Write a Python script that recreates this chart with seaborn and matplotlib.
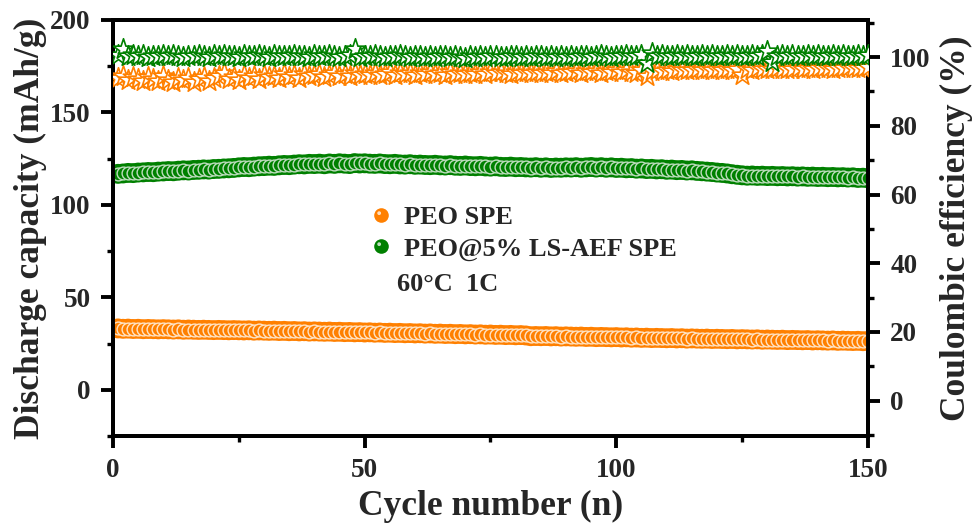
import matplotlib
matplotlib.use("Agg")
import matplotlib.pyplot as plt
from matplotlib.lines import Line2D
from matplotlib.legend_handler import HandlerTuple
from matplotlib.path import Path
from matplotlib.ticker import MultipleLocator
import numpy as np
import pandas as pd
import seaborn as sns

# ---- data -------------------------------------------------------------
cycles = list(range(1, 151))

peo_capacity = [
    33.2, 33.0, 33.1, 32.9, 33.0, 32.8, 32.9, 32.8, 32.7, 32.8,
    32.7, 32.6, 32.7, 32.5, 32.6, 32.5, 32.4, 32.5, 32.4, 32.3,
    32.4, 32.3, 32.2, 32.3, 32.2, 32.1, 32.2, 32.0, 32.1, 32.0,
    31.9, 32.0, 31.8, 31.9, 31.7, 31.8, 31.6, 31.7, 31.5, 31.6,
    31.5, 31.4, 31.5, 31.3, 31.4, 31.2, 31.3, 31.1, 31.2, 31.0,
    31.1, 30.9, 31.0, 30.8, 30.9, 30.7, 30.8, 30.6, 30.7, 30.5,
    30.6, 30.4, 30.5, 30.3, 30.4, 30.2, 30.3, 30.1, 30.2, 30.0,
    30.1, 29.9, 30.0, 29.8, 29.9, 29.7, 29.8, 29.6, 29.7, 29.5,
    29.6, 29.4, 29.0, 29.1, 29.0, 29.1, 28.9, 29.0, 28.8, 28.9,
    28.8, 28.7, 28.8, 28.6, 28.7, 28.5, 28.6, 28.5, 28.4, 28.5,
    28.3, 28.4, 28.2, 28.3, 28.1, 28.2, 28.0, 28.1, 28.0, 27.9,
    28.0, 27.8, 27.9, 27.7, 27.8, 27.7, 27.6, 27.7, 27.5, 27.6,
    27.5, 27.4, 27.5, 27.3, 27.4, 27.3, 27.2, 27.3, 27.1, 27.2,
    27.1, 27.0, 27.1, 26.9, 27.0, 26.9, 26.8, 26.9, 26.7, 26.8,
    26.7, 26.6, 26.7, 26.5, 26.6, 26.5, 26.4, 26.5, 26.3, 26.4,
]

aef_capacity = [
    116.8, 117.0, 117.3, 117.2, 117.5, 117.6, 117.8, 117.7, 118.0, 118.1,
    118.3, 118.2, 118.5, 118.7, 118.6, 118.9, 119.0, 119.2, 119.1, 119.4,
    119.5, 119.7, 119.8, 120.0, 120.3, 120.5, 120.4, 120.7, 120.9, 121.0,
    121.2, 121.1, 121.4, 121.6, 121.5, 121.8, 122.0, 121.9, 122.2, 122.1,
    122.3, 122.0, 122.4, 122.2, 122.5, 122.3, 122.1, 122.6, 122.4, 122.5,
    122.3, 122.2, 122.4, 122.1, 122.0, 122.2, 121.9, 121.8, 122.0, 121.7,
    121.8, 121.6, 121.5, 121.7, 121.4, 121.3, 121.5, 121.2, 121.1, 121.3,
    121.0, 120.9, 121.1, 120.8, 120.7, 120.9, 120.6, 120.5, 120.7, 120.4,
    120.5, 120.3, 120.2, 120.4, 120.1, 120.3, 120.0, 120.2, 120.1, 120.3,
    120.2, 120.4, 120.1, 120.3, 120.5, 120.2, 120.4, 120.1, 120.3, 120.0,
    120.1, 119.8, 119.9, 119.6, 119.7, 119.4, 119.5, 119.2, 119.3, 119.0,
    119.1, 118.8, 118.9, 118.6, 118.7, 118.4, 118.2, 118.0, 117.8, 117.5,
    117.3, 117.0, 116.6, 116.3, 116.0, 115.8, 115.9, 115.7, 115.8, 115.6,
    115.7, 115.5, 115.6, 115.4, 115.5, 115.3, 115.4, 115.2, 115.3, 115.1,
    115.2, 115.0, 115.1, 114.9, 115.0, 114.8, 114.9, 114.6, 114.7, 114.4,
]

peo_ce = [
    93.8, 94.6, 93.2, 94.1, 93.5, 92.9, 94.3, 93.6, 93.0, 94.4,
    93.3, 92.8, 94.0, 93.4, 93.9, 92.7, 93.7, 94.2, 93.1, 93.8,
    94.5, 95.3, 93.6, 94.2, 93.3, 94.7, 93.9, 94.4, 93.5, 94.8,
    94.1, 94.6, 93.8, 95.0, 94.3, 94.9, 94.0, 95.2, 94.4, 94.7,
    95.1, 94.3, 94.8, 95.4, 94.5, 95.0, 94.6, 95.3, 94.8, 95.1,
    94.7, 95.4, 94.9, 95.2, 95.6, 94.8, 95.3, 95.0, 95.5, 94.9,
    95.3, 95.0, 95.6, 95.1, 95.4, 94.9, 95.6, 95.1, 95.4, 95.0,
    95.5, 95.2, 95.7, 95.1, 95.6, 95.3, 95.7, 95.3, 95.1, 95.8,
    95.4, 95.7, 95.3, 95.8, 95.4, 95.7, 95.3, 95.9, 95.5, 95.8,
    95.6, 96.0, 95.5, 95.9, 95.6, 96.0, 95.5, 95.9, 95.7, 96.1,
    95.8, 96.1, 95.8, 95.5, 96.2, 94.4, 95.9, 96.3, 96.0, 96.3,
    96.0, 96.4, 96.1, 96.3, 96.2, 96.5, 96.1, 96.4, 96.2, 96.5,
    96.2, 96.4, 96.3, 96.6, 94.9, 96.5, 96.3, 96.7, 96.4, 96.6,
    96.5, 96.8, 96.5, 96.6, 96.4, 96.8, 96.6, 96.7, 96.5, 96.9,
    96.7, 96.8, 96.6, 96.9, 96.8, 97.0, 96.7, 96.9, 96.8, 97.0,
]

aef_ce = [
    100.7, 102.5, 100.3, 100.6, 100.2, 100.5, 100.1, 100.4, 100.3, 100.6,
    100.2, 100.5, 100.3, 100.1, 100.4, 100.2, 100.6, 100.3, 100.1, 100.5,
    100.3, 100.6, 100.2, 100.4, 100.1, 100.5, 100.3, 100.2, 100.6, 100.4,
    100.1, 100.5, 100.3, 100.2, 100.4, 100.6, 100.2, 100.3, 100.1, 100.5,
    100.3, 100.2, 100.6, 100.4, 100.1, 100.3, 100.5, 102.3, 99.9, 100.4,
    100.2, 100.5, 100.3, 100.1, 100.4, 100.2, 100.6, 100.3, 100.0, 100.4,
    100.2, 100.1, 100.4, 100.0, 100.3, 100.2, 99.9, 100.3, 100.1, 99.6,
    100.3, 100.1, 100.4, 100.0, 100.2, 100.3, 100.1, 99.9, 100.2, 100.4,
    100.1, 100.3, 100.0, 100.2, 100.4, 100.1, 100.3, 99.9, 100.2, 100.1,
    100.3, 100.0, 100.4, 100.2, 100.1, 100.3, 100.5, 100.2, 100.1, 100.4,
    100.3, 100.5, 100.2, 100.4, 100.6, 98.3, 101.3, 100.3, 100.5, 100.2,
    100.4, 100.6, 100.3, 100.5, 100.2, 100.4, 100.6, 100.3, 100.5, 100.4,
    100.2, 100.5, 100.3, 100.6, 100.4, 100.2, 100.5, 100.3, 100.6, 101.9,
    98.6, 100.4, 100.6, 100.3, 100.5, 100.2, 100.4, 100.6, 100.3, 100.5,
    100.4, 100.2, 100.5, 100.3, 100.6, 100.4, 100.2, 100.5, 100.3, 100.6,
]

series_labels = ["PEO SPE", "PEO@5% LS-AEF SPE"]
condition_label = "60°C  1C"
x_ticks = [0, 50, 100, 150]
cap_ticks = [0, 50, 100, 150, 200]
ce_ticks = [0, 20, 40, 60, 80, 100]

df = pd.DataFrame({
    "cycle": cycles,
    "peo_cap": peo_capacity,
    "aef_cap": aef_capacity,
    "peo_ce": peo_ce,
    "aef_ce": aef_ce,
})

# ---- style --------------------------------------------------------------
sns.set_style("white")
plt.rcParams["font.family"] = ["Liberation Serif", "DejaVu Serif"]
plt.rcParams["font.weight"] = "bold"
plt.rcParams["axes.labelweight"] = "bold"

ORANGE = "#FF8000"
GREEN = "#008000"
ORANGE_HI = "#FFE4C6"
GREEN_HI = "#BFDDBF"

fig = plt.figure(figsize=(9.79, 5.26), dpi=100)
ax = fig.add_axes([0.1154, 0.171, 0.7712, 0.791])
ax2 = ax.twinx()

BALL = 205
HILITE = 85


def balls(axis, col, face, hi):
    """Shaded spheres: a solid disc plus a smaller ringed disc on top."""
    sns.scatterplot(data=df, x="cycle", y=col, ax=axis, s=BALL, color=face,
                    edgecolor="none", linewidth=0, legend=False, zorder=3)
    sns.scatterplot(data=df, x="cycle", y=col, ax=axis, s=HILITE, color=face,
                    edgecolor=hi, linewidth=1.0, legend=False, zorder=4)


balls(ax, "peo_cap", ORANGE, ORANGE_HI)
balls(ax, "aef_cap", GREEN, GREEN_HI)

sns.scatterplot(data=df, x="cycle", y="peo_ce", ax=ax2, marker="*", s=240,
                color="white", edgecolor=ORANGE, linewidth=1.2,
                legend=False, zorder=3)
sns.scatterplot(data=df, x="cycle", y="aef_ce", ax=ax2, marker="*", s=240,
                color="white", edgecolor=GREEN, linewidth=1.2,
                legend=False, zorder=4)

# ---- axes ---------------------------------------------------------------
ax.set_xlim(0, 150)
ax.set_ylim(-25, 200)
ax2.set_ylim(-10.3, 110.8)

ax.set_xticks(x_ticks)
ax.set_yticks(cap_ticks)
ax2.set_yticks(ce_ticks)
ax.xaxis.set_minor_locator(MultipleLocator(25))
ax.yaxis.set_minor_locator(MultipleLocator(25))
ax2.yaxis.set_minor_locator(MultipleLocator(10))

ax.set_xlabel("Cycle number (n)", fontsize=25.5, fontweight="bold", labelpad=5)
ax.set_ylabel("Discharge capacity (mAh/g)", fontsize=25.5, fontweight="bold",
              labelpad=2)
ax2.set_ylabel("Coulombic efficiency (%)", fontsize=25.5, fontweight="bold",
               labelpad=6.5)

for a in (ax, ax2):
    for sp in a.spines.values():
        sp.set_linewidth(2.8)
        sp.set_color("black")
    a.tick_params(which="major", length=8.5, width=2.8, labelsize=19.5,
                  direction="out", color="black", pad=7.5)
    a.tick_params(which="minor", length=4.5, width=2.4, direction="out",
                  color="black")
ax.tick_params(axis="x", which="both", top=False, bottom=True)
ax.tick_params(axis="y", which="both", left=True, right=False)
ax2.tick_params(axis="y", which="both", left=False, right=True)
for lbl in ax.get_xticklabels() + ax.get_yticklabels() + ax2.get_yticklabels():
    lbl.set_fontweight("bold")

# ---- legend -------------------------------------------------------------
# highlight spot in the upper-left of the legend sphere; the two bare
# MOVETO corners keep the marker's scale tied to the full ball size
_spot = Path.circle((-0.32, 0.32), 0.26)
SHINE = Path(np.vstack([[[-1.0, -1.0]], [[1.0, 1.0]], _spot.vertices]),
             [Path.MOVETO, Path.MOVETO] + list(_spot.codes))


def ball_handle(face):
    base = Line2D([], [], linestyle="none", marker="o", markersize=10.5,
                  markerfacecolor=face, markeredgecolor="none")
    shine = Line2D([], [], linestyle="none", marker=SHINE, markersize=10.5,
                   markerfacecolor="white", markeredgecolor="none", alpha=0.75)
    return (base, shine)


leg = ax.legend([ball_handle(ORANGE), ball_handle(GREEN)],
                series_labels,
                handler_map={tuple: HandlerTuple(ndivide=1, pad=0)},
                loc="center left", bbox_to_anchor=(0.310, 0.488),
                frameon=False, handlelength=0.8, handletextpad=0.47,
                labelspacing=0.31, prop={"size": 19, "weight": "bold"})
ax.text(0.376, 0.365, condition_label, transform=ax.transAxes,
        fontsize=19, fontweight="bold", va="center", ha="left")

fig.savefig("out.png", dpi=100)
